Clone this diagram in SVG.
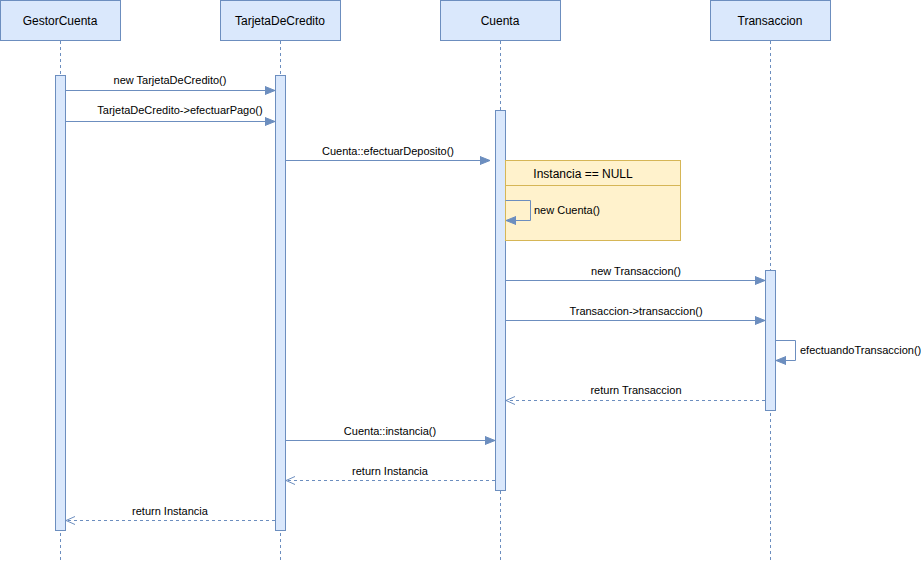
<svg xmlns="http://www.w3.org/2000/svg" width="921" height="561" viewBox="0 0 921 561">
<defs>
<style>
.head{fill:#dae8fc;stroke:#6c8ebf;stroke-width:1}
.act{fill:#dae8fc;stroke:#6c8ebf;stroke-width:1}
.life{stroke:#6c8ebf;stroke-width:1;stroke-dasharray:3,3;fill:none}
.msg{stroke:#6c8ebf;stroke-width:1;fill:none;marker-end:url(#fill)}
.ret{stroke:#6c8ebf;stroke-width:1;fill:none;stroke-dasharray:3,3;marker-end:url(#open)}
.ht{font-family:"Liberation Sans",Arial,sans-serif;font-size:12px;fill:#000;text-anchor:middle}
.lt{font-family:"Liberation Sans",Arial,sans-serif;font-size:11px;fill:#000;text-anchor:middle}
.ll{font-family:"Liberation Sans",Arial,sans-serif;font-size:11px;fill:#000;text-anchor:start}
</style>
<marker id="fill" viewBox="0 0 10 10" refX="10" refY="5" markerWidth="10" markerHeight="10" markerUnits="userSpaceOnUse" orient="auto">
<path d="M0,1 L10,5 L0,9 Z" fill="#6c8ebf" stroke="#6c8ebf"/>
</marker>
<marker id="open" viewBox="0 0 10 10" refX="9" refY="5" markerWidth="10" markerHeight="10" markerUnits="userSpaceOnUse" orient="auto">
<path d="M0,1 L9,5 L0,9" fill="none" stroke="#6c8ebf"/>
</marker>
</defs>
<rect width="921" height="561" fill="#ffffff"/>
<g id="GestorCuenta">
<rect class="head" x="0.5" y="0.5" width="120" height="40"/>
<text class="ht" x="60" y="24.5">GestorCuenta</text>
<line class="life" x1="60.5" y1="41" x2="60.5" y2="561"/>
<rect class="act" x="55.5" y="75.5" width="10" height="455"/>
</g>
<g id="TarjetaDeCredito">
<rect class="head" x="220.5" y="0.5" width="120" height="40"/>
<text class="ht" x="280" y="24.5">TarjetaDeCredito</text>
<line class="life" x1="280.5" y1="41" x2="280.5" y2="561"/>
<rect class="act" x="275.5" y="75.5" width="10" height="455"/>
</g>
<g id="Cuenta">
<rect class="head" x="440.5" y="0.5" width="120" height="40"/>
<text class="ht" x="500" y="24.5">Cuenta</text>
<line class="life" x1="500.5" y1="41" x2="500.5" y2="561"/>
<rect class="act" x="495.5" y="110.5" width="10" height="380"/>
</g>
<g id="Transaccion">
<rect class="head" x="710.5" y="0.5" width="120" height="40"/>
<text class="ht" x="770" y="24.5">Transaccion</text>
<line class="life" x1="770.5" y1="41" x2="770.5" y2="561"/>
<rect class="act" x="765.5" y="270.5" width="10" height="140"/>
</g>
<g id="alt">
<rect x="505.5" y="160.5" width="175" height="80" fill="#fff2cc" stroke="#d6b656"/>
<line x1="505.5" y1="185.5" x2="680.5" y2="185.5" stroke="#d6b656"/>
<text class="ht" x="583" y="177.5">Instancia == NULL</text>
</g>
<g id="connectors">
<line class="msg" x1="65.5" y1="90.5" x2="275" y2="90.5"/>
<text class="lt" x="170" y="84">new TarjetaDeCredito()</text>
<line class="msg" x1="65.5" y1="121.5" x2="275" y2="121.5"/>
<text class="lt" x="180" y="114">TarjetaDeCredito-&gt;efectuarPago()</text>
<line class="msg" x1="285.5" y1="160.5" x2="490" y2="160.5"/>
<text class="lt" x="388" y="155">Cuenta::efectuarDeposito()</text>
<path class="msg" d="M505.5,200.5 H530.5 V220.5 H506"/>
<text class="ll" x="534" y="214">new Cuenta()</text>
<line class="msg" x1="505.5" y1="280.5" x2="765" y2="280.5"/>
<text class="lt" x="636" y="275">new Transaccion()</text>
<line class="msg" x1="505.5" y1="320.5" x2="765" y2="320.5"/>
<text class="lt" x="636" y="315">Transaccion-&gt;transaccion()</text>
<path class="msg" d="M775.5,340.5 H795.5 V360.5 H776"/>
<text class="ll" x="800" y="354">efectuandoTransaccion()</text>
<line class="ret" x1="765" y1="400.5" x2="506" y2="400.5"/>
<text class="lt" x="636" y="394">return Transaccion</text>
<line class="msg" x1="285.5" y1="440.5" x2="495" y2="440.5"/>
<text class="lt" x="390" y="435">Cuenta::instancia()</text>
<line class="ret" x1="495" y1="480.5" x2="286" y2="480.5"/>
<text class="lt" x="390" y="475">return Instancia</text>
<line class="ret" x1="275" y1="520.5" x2="66" y2="520.5"/>
<text class="lt" x="170" y="515">return Instancia</text>
</g>
</svg>
